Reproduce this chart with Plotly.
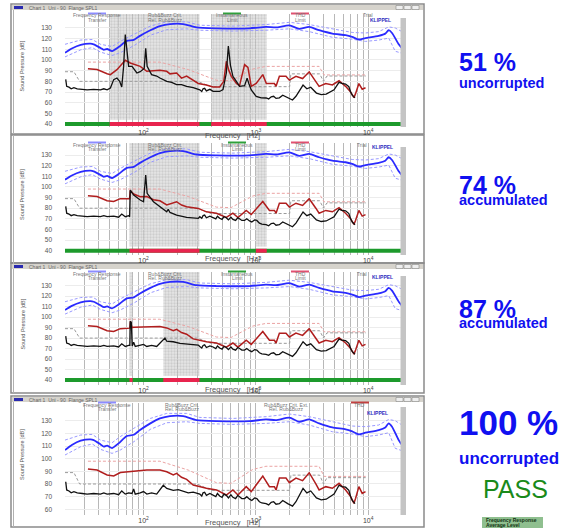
import plotly.graph_objects as go

W, H = 571, 529

# ---------------- data ----------------
FR_FREQ = [20, 23, 27.6, 33.7, 36, 41.4, 44.3, 47.4, 52.5, 60, 71, 82, 93, 115, 140, 172, 226, 296, 446, 880,
           1230, 1510, 1990, 2430, 2980, 3660, 4800, 6300, 7200, 8260, 9460, 12400, 14200, 15200, 16300, 18700, 20000]
FR_DB = [106.8, 110.8, 114.2, 115.3, 114.7, 111.3, 109.5, 110.3, 108.4, 112.1, 117.9, 118.9, 122.6, 127.9, 131.8,
         133.7, 133.7, 130.5, 129.7, 129.7, 131.0, 130.5, 132.4, 129.2, 131.0, 127.9, 124.7, 123.2, 121.6, 119.2,
         120.5, 122.6, 124.7, 127.9, 125.3, 114.7, 110.8]

FR_BOUND_FREQ = [20, 27.6, 35, 41.4, 52.5, 62, 82, 115, 161, 242, 317, 625, 1234, 1986, 2984, 4800, 7216, 9464,
                 12410, 15240, 17400, 20000]
FR_UPPER_DB = [114.7, 118.7, 119.2, 114.7, 112.6, 117.4, 124, 131.8, 135.8, 135.8, 132.6, 131.8, 133.2, 135.3,
               133.2, 129.2, 125.8, 125.3, 126.6, 131.0, 130.0, 126.6]
FR_LOWER_DB = [102.9, 109.5, 111.6, 107.4, 104.2, 106.8, 113.4, 123.2, 128.4, 129.2, 127.9, 127.1, 127.9, 129.2,
               126.6, 121.3, 119.5, 117.4, 118.7, 120.5, 108.2, 106.3]

RB_FREQ = [20.3, 20.7, 21.7, 22.7, 24, 25.7, 28.5, 31.5, 36, 41.4, 44.3, 47.4, 54.3, 60, 64, 68.8, 73.7, 79, 81.7,
           84.4, 93.4, 100, 107, 118, 131, 145, 150, 161, 172, 184, 204, 226, 250, 277, 317, 330, 339, 350, 363,
           390, 416, 440, 455, 476, 500, 520, 546, 570, 600, 625, 660, 690, 716, 750, 794, 830, 879, 920, 974,
           1020, 1076, 1130, 1234, 1300, 1370, 1440, 1513, 1620, 1735, 1830, 1920, 2020, 2120, 2275, 2631, 2843,
           3080, 3460, 3820, 4230, 4487, 4966, 5500, 5820, 6295, 6730, 6980, 7216, 7630]
RB_DB = [81.8, 75.3, 74.5, 73, 74, 73, 72.5, 72, 72.5, 72, 73, 72, 72.5, 71.5, 74.5, 72, 73, 72.5, 76, 72, 73, 74,
         72, 73, 72, 77, 79, 76.5, 76, 75, 75.5, 74, 73, 73.5, 72, 70.5, 73, 73.5, 71,
         72.5, 71.5, 70, 72.5, 70.5, 69.5, 72, 71, 69, 71.5, 69.5, 68.5, 71, 70, 68.5, 68.5, 70, 68, 67, 69,
         68.5, 66, 65, 64.5, 63.5, 65.5, 66, 64, 64.5, 67, 66, 64.5, 63.5, 62.5, 66, 76.5, 73,
         74.5, 69, 67.5, 68, 69.5, 72, 79, 78, 77.5, 75, 70, 67, 64.5]

THD_FREQ = [32, 38.6, 47.4, 54.3, 62.2, 81.7, 107, 140, 161, 184, 197, 218, 242, 277, 363, 446, 546, 625, 693, 821,
            910, 1153, 1321, 1463, 1513, 1620, 1855, 1986, 2275, 2607, 2984, 3420, 3657, 4190, 4800, 5500, 6295,
            6980, 7470, 7730, 8264, 8850, 9464]
THD_DB = [91.8, 91, 87.1, 86.3, 89, 90.3, 91, 91, 89.7, 87.1, 88.4, 85.3, 83.7, 79.2, 76.6, 75.3, 71.3, 75.3, 71.3,
          77.9, 74, 86.3, 77.9, 77.9, 75.3, 84.7, 84.7, 81.1, 84.7, 82.6, 88.9, 80, 75.3, 77.9, 76.6, 80.5, 75.3,
          70, 64.7, 68.7, 77.9, 72.6, 74]

THD_LIM_FREQ = [32, 140, 250, 446, 600, 940, 1230, 3650, 4050, 9500]
THD_LIM_DB = [98, 98, 91, 81, 80.5, 91.5, 94, 94, 86, 86]

RB_LIM_FREQ = [20, 24, 27, 300, 400, 2000, 2050, 3700, 4000, 4300, 9500]
RB_LIM_DB = [89, 89, 80, 80, 75, 75, 87, 87, 80, 85, 85]

# corrupted (shaded) frequency intervals per chart
P1_REGIONS = [(50, 315), (400, 1250)]
P2_REGIONS = [(75, 315), (1000, 1250)]
P3_REGIONS = [(75, 80), (150, 315)]
P4_REGIONS = []

P1_RB_FREQ = [50.7, 54.3, 58, 61.3, 64, 66.5, 68.8, 71.3, 73.7, 79, 84.4, 87.3, 93.4, 101.4, 104.6, 107.7, 118, 131,
              140, 161, 178, 197, 218, 242, 277, 307,
              416, 476, 510, 546, 569, 594, 625, 671, 716, 794, 836, 866, 910, 1007, 1115, 1234]
P1_RB_DB = [73.8, 81.6, 83.1, 80, 74.7, 94, 123.8, 109.7, 94, 94, 90, 87.8, 89, 92, 111, 94, 86.3, 85, 83.1, 80, 79,
            76.9, 77, 75.3, 74, 73,
            70.6, 70.5, 72.2, 87.8, 113, 95, 84.7, 80, 75.3, 76, 83, 78, 72, 65.9, 64.5, 64.4]
P1_THD_FREQ = [50.7, 58, 68.8, 76.2, 93.4, 107, 140, 161, 172, 197, 218, 242, 277, 307,
               416, 476, 518, 546, 576, 605, 671, 716, 794, 850, 910, 1007, 1153, 1240]
P1_THD_DB = [86.3, 90.9, 99.7, 97.2, 94, 89.4, 90.3, 89.4, 87, 87.8, 83, 85, 80.9, 78,
             74.7, 74.7, 80, 98.8, 90, 84.7, 78, 76, 95.6, 93, 75.3, 78, 86.3, 78]

P2_RB_FREQ = [75.2, 76.2, 81.7, 93.4, 100, 104.6, 107.7, 122.6, 140, 161, 166, 172, 197, 242, 307]
P2_RB_DB = [72, 97, 92.4, 87.7, 86.1, 111.2, 94, 86.1, 81.4, 76.7, 79, 76, 73.6, 71.4, 70.4]
P2_THD_FREQ = [75.2, 76.2, 81.7, 93.4, 107, 122.6, 140, 161, 197, 218, 242, 307]
P2_THD_DB = [89, 96.5, 93.3, 90.8, 91, 88, 87, 83, 86.1, 83, 81.4, 79.8]

P3_RB_FREQ = [75.5, 76.2, 77.8, 79.4, 150, 155, 161, 184, 211, 242, 277, 307]
P3_RB_DB = [73, 96, 95, 72.5, 78.7, 80, 77, 76.5, 75, 74.5, 73.5, 73.3]
P3_THD_FREQ = [75.5, 76.5, 79]
P3_THD_DB = [89.5, 96, 90]

X_TICK_VALS = [20, 30, 40, 50, 60, 70, 80, 90, 100, 200, 300, 400, 500, 600, 700, 800, 900, 1000,
               2000, 3000, 4000, 5000, 6000, 7000, 8000, 9000, 10000, 20000]
X_TICK_TEXT = ["", "", "", "", "", "", "", "", "10<sup>2</sup>", "", "", "", "", "", "", "", "", "10<sup>3</sup>",
               "", "", "", "", "", "", "", "", "10<sup>4</sup>", ""]
DB_TICKS_FULL = [40, 50, 60, 70, 80, 90, 100, 110, 120, 130]
DB_TICKS_SHORT = [60, 70, 80, 90, 100, 110, 120, 130]

PERCENT_LABELS = ["51 %", "74 %", "87 %", "100 %"]
STATUS_LABELS = ["uncorrupted", "accumulated", "accumulated", "uncorrupted"]
VERDICT = "PASS"

# ---------------- layout geometry (pixels) ----------------
PANELS = [
    dict(top=14, bottom=127, yr=[37.2, 143.1], ticks=DB_TICKS_FULL, regions=P1_REGIONS, bar=True,
         rb=(P1_RB_FREQ, P1_RB_DB), thd=(P1_THD_FREQ, P1_THD_DB), win=(4, 134), titlebar=True, ftitle=135,
         leg=[97, 165, 232, 300, 368], klx=380, kly=20),
    dict(top=143, bottom=255, yr=[36.0, 141.3], ticks=DB_TICKS_FULL, regions=P2_REGIONS, bar=True,
         rb=(P2_RB_FREQ, P2_RB_DB), thd=(P2_THD_FREQ, P2_THD_DB), win=(135, 263), titlebar=False, ftitle=258,
         leg=[97, 165, 237, 300, 362], klx=382, kly=147),
    dict(top=272, bottom=385, yr=[35.2, 143.1], ticks=DB_TICKS_FULL, regions=P3_REGIONS, bar=True,
         rb=(P3_RB_FREQ, P3_RB_DB), thd=(P3_THD_FREQ, P3_THD_DB), win=(263, 393), titlebar=True, ftitle=389,
         leg=[97, 165, 237, 300, 362], klx=382, kly=277),
    dict(top=403, bottom=515, yr=[55.5, 144.0], ticks=DB_TICKS_SHORT, regions=P4_REGIONS, bar=False,
         rb=([], []), thd=([], []), win=(396, 527), titlebar=True, ftitle=522,
         leg=[107, 182, 286, 360], klx=377, kly=413),
]
PLOT_X0, PLOT_X1 = 65, 402


def px(x):
    return x / W


def py(y):
    return 1 - y / H


def patched(base_f, base_v, regions, pf, pv):
    drop = []
    for a, b in regions:
        inside = [f for f in pf if a <= f <= b]
        if inside:
            drop.append((min(inside), max(inside)))
    pts = [(f, v) for f, v in zip(base_f, base_v) if not any(lo <= f <= hi for lo, hi in drop)]
    pts += list(zip(pf, pv))
    pts.sort()
    return [p[0] for p in pts], [p[1] for p in pts]


fig = go.Figure()
shapes, annots = [], []
FONT = "Liberation Sans, Arial, sans-serif"


def note(x, y, text, size, color, xanchor="center", **kw):
    annots.append(dict(x=px(x), y=py(y), xref="paper", yref="paper", showarrow=False, xanchor=xanchor,
                       yanchor="middle", text=text, font=dict(size=size, color=color, family=FONT), **kw))


for i, P in enumerate(PANELS):
    n = "" if i == 0 else str(i + 1)
    xa, ya = "x" + n, "y" + n
    ytop = P["yr"][1]

    def add(**kw):
        fig.add_trace(go.Scatter(xaxis=xa, yaxis=ya, hoverinfo="skip", showlegend=False, **kw))

    # shaded (corrupted) regions
    for a, b in P["regions"]:
        add(x=[a, b, b, a, a], y=[44, 44, ytop, ytop, 44], mode="lines", fill="toself",
            line=dict(width=0), fillcolor="rgba(0,0,0,0)",
            fillpattern=dict(shape=".", size=3, solidity=0.45, fgcolor="rgba(150,150,150,0.6)",
                             bgcolor="rgba(212,212,212,0.6)", fillmode="overlay"))
    # limits
    add(x=THD_LIM_FREQ, y=THD_LIM_DB, mode="lines", line=dict(color="#eba3a3", width=1, dash="3px,2px"))
    add(x=RB_LIM_FREQ, y=RB_LIM_DB, mode="lines", line=dict(color="#9a9a9a", width=1, dash="3px,2px"))
    add(x=FR_BOUND_FREQ, y=FR_UPPER_DB, mode="lines", line=dict(color="#9a9aff", width=1, dash="3px,2px"))
    add(x=FR_BOUND_FREQ, y=FR_LOWER_DB, mode="lines", line=dict(color="#9a9aff", width=1, dash="3px,2px"))
    # curves
    add(x=FR_FREQ, y=FR_DB, mode="lines", line=dict(color="#2a2aff", width=1.8, shape="spline", smoothing=0.6))
    tf, tv = patched(THD_FREQ, THD_DB, P["regions"], *P["thd"])
    add(x=tf, y=tv, mode="lines", line=dict(color="#b01e1e", width=1.5))
    rf, rv = patched(RB_FREQ, RB_DB, P["regions"], *P["rb"])
    add(x=rf, y=rv, mode="lines", line=dict(color="#111111", width=1.3))
    # status bar
    if P["bar"]:
        add(x=[20, 20000], y=[40, 40], mode="lines", line=dict(color="#1d9a2c", width=4))
        for a, b in P["regions"]:
            add(x=[a, b], y=[40, 40], mode="lines", line=dict(color="#e8244e", width=4))

    dom_x = [px(PLOT_X0), px(PLOT_X1)]
    dom_y = [py(P["bottom"]), py(P["top"])]
    fig.update_layout(**{
        "xaxis" + n: dict(type="log", range=[1.30103, 4.30103], domain=dom_x, anchor=ya,
                          tickvals=X_TICK_VALS, ticktext=X_TICK_TEXT, showgrid=True, gridcolor="#b8b8b8",
                          gridwidth=1, zeroline=False, showline=False, ticks="",
                          tickfont=dict(size=7, color="#444", family=FONT)),
        "yaxis" + n: dict(range=P["yr"], domain=dom_y, anchor=xa, tickvals=P["ticks"], showgrid=True,
                          gridcolor="#ececec", zeroline=False, showline=False, ticks="",
                          ticklabelstandoff=12, tickfont=dict(size=6.5, color="#555", family=FONT)),
    })

    # window frame
    wt, wb = P["win"]
    shapes.append(dict(type="rect", xref="paper", yref="paper", x0=px(11), x1=px(424), y0=py(wb), y1=py(wt),
                       line=dict(color="#8a8a8a", width=1.5), layer="below"))
    shapes.append(dict(type="line", xref="paper", yref="paper", x0=px(13.5), x1=px(13.5), y0=py(wb), y1=py(wt),
                       line=dict(color="#b0b0b0", width=1)))
    if P["titlebar"]:
        shapes.append(dict(type="rect", xref="paper", yref="paper", x0=px(12), x1=px(423), y0=py(wt + 6),
                           y1=py(wt + 1), fillcolor="#d6d3cc", line=dict(width=0)))
        shapes.append(dict(type="rect", xref="paper", yref="paper", x0=px(14), x1=px(23), y0=py(wt + 5),
                           y1=py(wt + 2), fillcolor="#2a2ab0", line=dict(width=0)))
        for bx in (396, 404, 412):
            shapes.append(dict(type="rect", xref="paper", yref="paper", x0=px(bx), x1=px(bx + 7),
                               y0=py(wt + 5.5), y1=py(wt + 1.5), fillcolor="#eeeeee",
                               line=dict(color="#777", width=0.5)))
        note(27, wt + 3.5, "Chart 1  Uni - 90  Flange SPL1", 5, "#666", xanchor="left")
    # grey strip at right of plot
    shapes.append(dict(type="rect", xref="paper", yref="paper", x0=px(400.5), x1=px(406),
                       y0=py(P["bottom"]), y1=py(P["top"] + 4), fillcolor="#c4c4c4", line=dict(width=0)))

    # legend-like header
    pt = P["top"]
    names = [("Frequency Response", "Transfer"), ("Rub&Buzz Crit.", "Rel. Rub&Buzz"),
             ("Instantaneous", "Limit"), ("THD", "Limit"), ("Trial", "")]
    if i == 3:
        names = [("Frequency Response", "Transfer"), ("Rub&Buzz Crit.", "Rel. Rub&Buzz"),
                 ("Rub&Buzz Crit. Ext.", "Rel. Rub&Buzz"), ("THD", "")]
    for (l1, l2), cx in zip(names, P["leg"]):
        note(cx, pt + 1.5, l1, 5, "#777")
        if l2:
            note(cx, pt + 5.5, l2, 5, "#777")
    sw = [(P["leg"][0], "#8c8cff")]
    if i < 3:
        sw += [(P["leg"][2], "#2ea03a"), (P["leg"][3], "#e05070")]
    else:
        sw += [(P["leg"][3], "#c04040")]
    for cx, col in sw:
        shapes.append(dict(type="line", xref="paper", yref="paper", x0=px(cx - 9), x1=px(cx + 9),
                           y0=py(pt - 0.5), y1=py(pt - 0.5), line=dict(color=col, width=2)))
    note(P["klx"], P["kly"], "<b>KLIPPEL</b>", 5, "#3030c0")
    # axis titles
    note(232, P["ftitle"], "Frequency   [Hz]", 7.5, "#555")
    note(22, (P["top"] + P["bottom"]) / 2 - 4, "Sound Pressure [dB]", 5.5, "#555", textangle=-90)

# right-hand text
BLUE = "#1010f0"
right = [(62, PERCENT_LABELS[0], 25, 83, STATUS_LABELS[0], 14.5),
         (185, PERCENT_LABELS[1], 25, 200, STATUS_LABELS[1], 14.5),
         (309, PERCENT_LABELS[2], 25, 323, STATUS_LABELS[2], 14.5),
         (422, PERCENT_LABELS[3], 35, 458, STATUS_LABELS[3], 17)]
for y1, t1, s1, y2, t2, s2 in right:
    note(457, y1, "<b>" + t1 + "</b>", s1, BLUE, xanchor="left")
    note(457, y2, "<b>" + t2 + "</b>", s2, BLUE, xanchor="left")
note(515, 489, VERDICT, 25, "#1a8a1a")
shapes.append(dict(type="rect", xref="paper", yref="paper", x0=px(482), x1=px(543), y0=py(528), y1=py(517),
                   fillcolor="#8fbf8f", line=dict(width=0)))
note(484, 520, "<b>Frequency Response</b>", 5, "#113311", xanchor="left")
note(484, 525, "<b>Average Level</b>", 5, "#113311", xanchor="left")

fig.update_layout(width=W, height=H, margin=dict(l=0, r=0, t=0, b=0), paper_bgcolor="white",
                  plot_bgcolor="white", showlegend=False, shapes=shapes, annotations=annots)
fig.write_html("out.html", config={"displayModeBar": False},
               post_script="document.body.style.margin='0';document.body.style.overflow='hidden';")
